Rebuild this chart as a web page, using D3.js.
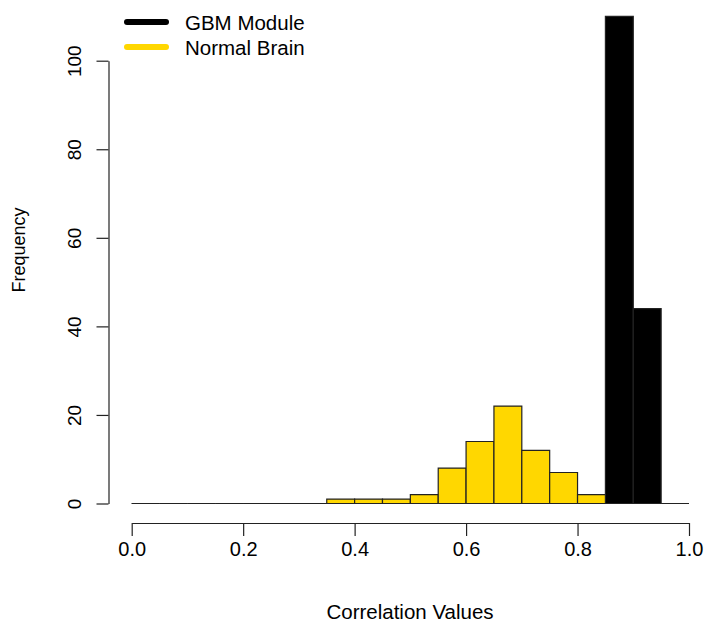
<!DOCTYPE html>
<html><head><meta charset="utf-8">
<script src="https://cdn.jsdelivr.net/npm/d3@7"></script>
<style>body{margin:0;background:#fff}svg{display:block}text{font-family:"Liberation Sans",Arial,sans-serif;fill:#000}</style>
</head><body>
<script>
// Histogram bins (width 0.05)
const binStarts = [0,0.05,0.10,0.15,0.20,0.25,0.30,0.35,0.40,0.45,0.50,0.55,0.60,0.65,0.70,0.75,0.80,0.85,0.90,0.95];
const gbmCounts    = [0,0,0,0,0,0,0,0,0,0,0,0,0,0,0,0,0,110,44,0];
const normalCounts = [0,0,0,0,0,0,0,1,1,1,2,8,14,22,12,7,2];
const binWidth = 0.05;
const xTicks = [0,0.2,0.4,0.6,0.8,1.0];
const yTicks = [0,20,40,60,80,100];
const seriesNames = ["GBM Module","Normal Brain"];
const seriesColors = ["#000000","#FFD700"];
const xLabel = "Correlation Values";
const yLabel = "Frequency";

const W=704,H=622;
const svg=d3.select("body").append("svg").attr("width",W).attr("height",H);
const x=d3.scaleLinear().domain([0,1]).range([131.7,689]);
const y=d3.scaleLinear().domain([0,100]).range([503.5,60.7]);

function drawHist(counts,fill){
  const data=counts.map((c,i)=>({x0:binStarts[i],x1:binStarts[i]+binWidth,c}));
  svg.append("g").selectAll("path").data(data).join("path")
    .attr("d",d=>{
      const a=x(d.x0),b=x(d.x1),t=y(d.c),z=y(0);
      return `M${a},${z}H${b}V${t}H${a}Z`;
    })
    .attr("fill",fill).attr("stroke","#222").attr("stroke-width",1.2);
}
drawHist(gbmCounts,seriesColors[0]);
drawHist(normalCounts,seriesColors[1]);

// x axis
const xa=svg.append("g").attr("transform","translate(0,523)")
  .call(d3.axisBottom(x).tickValues(xTicks).tickFormat(d3.format(".1f")).tickSize(13).tickPadding(6).tickSizeOuter(0));
xa.select(".domain").attr("stroke","#222").attr("stroke-width",1.2);
xa.selectAll(".tick line").attr("stroke","#222").attr("stroke-width",1.2);
xa.selectAll("text").style("font-size","20px").attr("fill","#000").attr("font-family",null);

// y axis
const ya=svg.append("g").attr("transform","translate(108.5,0)")
  .call(d3.axisLeft(y).tickValues(yTicks).tickSize(12).tickSizeOuter(0));
ya.select(".domain").attr("stroke","#222").attr("stroke-width",1.2);
ya.selectAll(".tick line").attr("stroke","#222").attr("stroke-width",1.2);
ya.selectAll(".tick text").attr("x",null).attr("dy",null).attr("text-anchor","middle")
  .attr("transform","translate(-28,0) rotate(-90)").style("font-size","19px").attr("fill","#000").attr("font-family",null);

// labels
svg.append("text").attr("x",410).attr("y",619).attr("text-anchor","middle").style("font-size","20.5px").text(xLabel);
svg.append("text").attr("transform","translate(25,250) rotate(-90)").attr("text-anchor","middle").style("font-size","18px").text(yLabel);

// legend
const lg=svg.append("g");
seriesNames.forEach((n,i)=>{
  const cy=22+i*25;
  lg.append("line").attr("x1",127).attr("x2",166).attr("y1",cy).attr("y2",cy)
    .attr("stroke",seriesColors[i]).attr("stroke-width",6).attr("stroke-linecap","round");
  lg.append("text").attr("x",185).attr("y",cy+7.5).style("font-size","20.5px").text(n);
});
</script>
</body></html>
